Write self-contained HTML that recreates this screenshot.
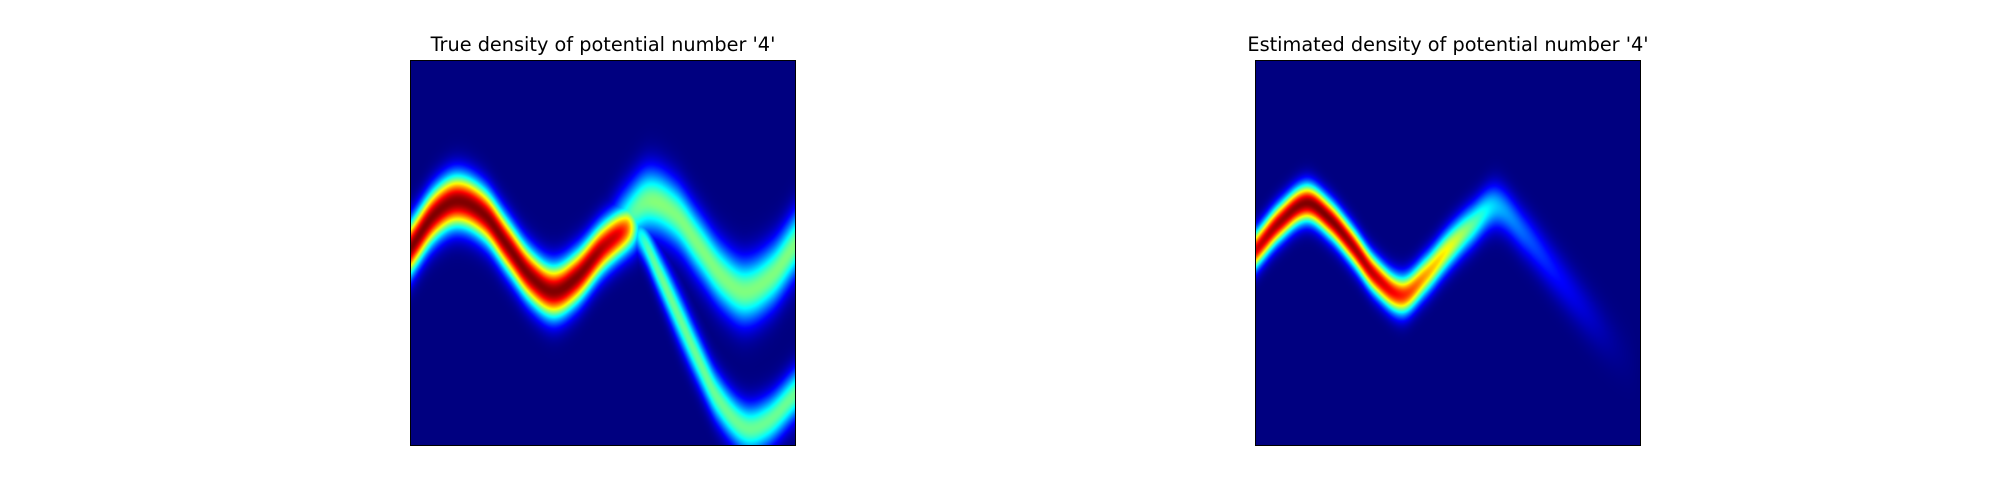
<!DOCTYPE html>
<html><head><meta charset="utf-8"><style>
body{margin:0;background:#fff;width:2000px;height:500px;position:relative;overflow:hidden;font-family:"DejaVu Sans","Liberation Sans",sans-serif}
.title{position:absolute;top:33px;font-size:19.3px;color:#000;text-align:center;width:500px;white-space:nowrap}
canvas{position:absolute;top:60px;border:1px solid #000;box-sizing:border-box}
</style></head><body>
<div class="title" style="left:353px">True density of potential number '4'</div>
<div class="title" style="left:1198px">Estimated density of potential number '4'</div>
<canvas id="c1" width="386" height="386" style="left:410px;width:386px;height:386px"></canvas>
<canvas id="c2" width="386" height="386" style="left:1255px;width:386px;height:386px"></canvas>
<script>
// Band knots: x position (0..1), center y (0..1 from top), amplitude, sigma
const trueMainX   = [0.00,0.06,0.12,0.19,0.25,0.31,0.37,0.43,0.50,0.56,0.60];
const trueMainY   = [0.484,0.40,0.365,0.40,0.48,0.56,0.60,0.565,0.485,0.44,0.43];
const trueMainA   = [1.0,1.0,1.0,1.0,1.0,1.0,1.0,1.0,0.95,0.8,0.2];
const trueMainS   = [0.048,0.048,0.048,0.048,0.048,0.048,0.048,0.048,0.046,0.044,0.044];
const trueUpX     = [0.50,0.56,0.62,0.69,0.75,0.81,0.87,0.94,1.00];
const trueUpY     = [0.47,0.41,0.365,0.40,0.48,0.56,0.60,0.56,0.48];
const trueUpA     = [0.2,0.42,0.5,0.5,0.5,0.5,0.5,0.5,0.5];
const trueUpS     = [0.05,0.056,0.058,0.058,0.058,0.058,0.058,0.058,0.058];
const trueLowX    = [0.55,0.60,0.65,0.70,0.75,0.80,0.87,0.93,1.00];
const trueLowY    = [0.44,0.46,0.56,0.67,0.78,0.88,0.955,0.94,0.87];
const trueLowA    = [0.0,0.4,0.48,0.48,0.48,0.48,0.48,0.48,0.48];
const trueLowS    = [0.03,0.035,0.04,0.045,0.045,0.045,0.045,0.045,0.045];
const estX = [0.00,0.06,0.13,0.19,0.25,0.31,0.38,0.44,0.50,0.56,0.627,0.70,0.78,0.86,0.93,1.00];
const estY = [0.49,0.42,0.37,0.41,0.48,0.56,0.61,0.56,0.49,0.43,0.38,0.45,0.55,0.65,0.73,0.80];
const estA = [0.92,0.97,1.0,1.0,0.97,0.93,0.85,0.72,0.62,0.48,0.32,0.22,0.14,0.08,0.03,0.0];
const estS = [0.034,0.034,0.034,0.034,0.034,0.034,0.035,0.036,0.037,0.038,0.04,0.042,0.045,0.048,0.05,0.05];

function interp(xs, ys, x){
  const n=xs.length;
  if(x<xs[0]||x>xs[n-1]) return null;
  let i=1; while(i<n-1 && x>xs[i]) i++;
  const x0=xs[i-1],x1=xs[i],t=(x-x0)/(x1-x0);
  const y0=ys[i-1],y1=ys[i];
  const m=(k)=>{ if(k<=0) return (ys[1]-ys[0])/(xs[1]-xs[0]); if(k>=n-1) return (ys[n-1]-ys[n-2])/(xs[n-1]-xs[n-2]); return (ys[k+1]-ys[k-1])/(xs[k+1]-xs[k-1]); };
  const h=x1-x0,m0=m(i-1)*h,m1=m(i)*h;
  const t2=t*t,t3=t2*t;
  return (2*t3-3*t2+1)*y0+(t3-2*t2+t)*m0+(-2*t3+3*t2)*y1+(t3-t2)*m1;
}
function jet(v){
  v=Math.max(0,Math.min(1,v));
  const f=(x)=>Math.max(0,Math.min(1,x));
  return [f(1.5-Math.abs(4*v-3)),f(1.5-Math.abs(4*v-2)),f(1.5-Math.abs(4*v-1))].map(c=>Math.round(c*255));
}
function draw(id, bands){
  const cv=document.getElementById(id),ctx=cv.getContext('2d'),W=cv.width,H=cv.height;
  const img=ctx.createImageData(W,H);
  for(let px=0;px<W;px++){
    const u=px/(W-1);
    const params=bands.map(b=>{const a=interp(b[0],b[2],u);if(a===null)return null;return [interp(b[0],b[1],u),Math.max(0,a),interp(b[0],b[3],u)];});
    for(let py=0;py<H;py++){
      const v=py/(H-1);let val=0;
      for(const p of params){ if(!p) continue; const d=v-p[0]; val=Math.max(val,p[1]*Math.exp(-d*d/(2*p[2]*p[2]))); }
      const c=jet(Math.min(1,val));const k=(py*W+px)*4;
      img.data[k]=c[0];img.data[k+1]=c[1];img.data[k+2]=c[2];img.data[k+3]=255;
    }
  }
  ctx.putImageData(img,0,0);
}
draw('c1',[[trueMainX,trueMainY,trueMainA,trueMainS],[trueUpX,trueUpY,trueUpA,trueUpS],[trueLowX,trueLowY,trueLowA,trueLowS]]);
draw('c2',[[estX,estY,estA,estS]]);
</script>
</body></html>
